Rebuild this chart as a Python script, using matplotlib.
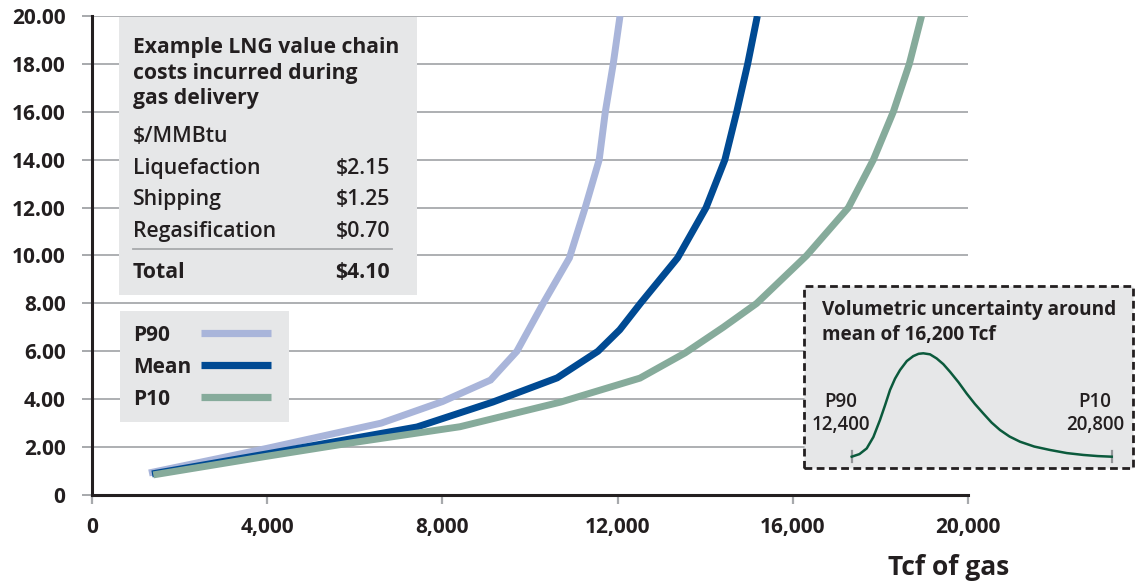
import matplotlib
matplotlib.use('Agg')
import matplotlib.pyplot as plt
from matplotlib.patches import Rectangle
from matplotlib.lines import Line2D

# ---------------- data ----------------
series_names = ['P90', 'Mean', 'P10']
p90_x = [1300, 4000, 6600, 8000, 9100, 9700, 10300, 10900, 11260, 11580, 11720, 11900, 12055]
p90_y = [0.92, 1.95, 3.0, 3.9, 4.8, 6.0, 8.0, 9.9, 12.0, 14.0, 16.0, 18.0, 20.0]
mean_x = [1370, 4000, 7420, 9150, 10620, 11550, 12050, 12520, 13370, 14020, 14450, 14720, 14970, 15190]
mean_y = [0.88, 1.72, 2.84, 3.88, 4.89, 6.0, 6.9, 8.0, 9.9, 12.0, 14.0, 16.0, 18.0, 20.0]
p10_x = [1400, 4000, 6000, 8400, 10700, 12510, 13540, 14410, 15175, 16317, 17270, 17840, 18295, 18660, 18940]
p10_y = [0.84, 1.62, 2.2, 2.85, 3.88, 4.88, 5.93, 7.0, 8.0, 10.0, 12.0, 14.0, 16.0, 18.0, 20.0]

x_ticks = [0, 4000, 8000, 12000, 16000, 20000]
y_ticks = [0, 2, 4, 6, 8, 10, 12, 14, 16, 18, 20]

box_title = ['Example LNG value chain', 'costs incurred during', 'gas delivery']
unit_label = '$/MMBtu'
cost_items = ['Liquefaction', 'Shipping', 'Regasification']
cost_values = [2.15, 1.25, 0.70]
total_label = 'Total'
total_value = 4.10

inset_title = ['Volumetric uncertainty around', 'mean of 16,200 Tcf']
inset_low_label, inset_low_value = 'P90', 12400
inset_high_label, inset_high_value = 'P10', 20800
inset_x = [12400, 12650, 12885, 13100, 13314, 13480, 13638, 13800, 13961, 14180, 14390,
           14560, 14713, 14930, 15146, 15360, 15580, 15850, 16116, 16380, 16652, 16920,
           17192, 17500, 17838, 18300, 18807, 19350, 19883, 20350, 20800]
inset_y = [0.0, 0.025, 0.08, 0.19, 0.355, 0.5, 0.645, 0.755, 0.838, 0.925, 0.973,
           0.995, 1.0, 0.99, 0.95, 0.895, 0.82, 0.72, 0.61, 0.51, 0.418, 0.33,
           0.258, 0.195, 0.145, 0.098, 0.065, 0.035, 0.017, 0.006, 0.0]

# ---------------- style ----------------
plt.rcParams['font.family'] = ['Open Sans', 'DejaVu Sans']
TXT = '#231F20'
GRID = '#A7A9AC'
BOXC = '#E6E7E8'
colors = {'P90': '#A9B5DA', 'Mean': '#004A93', 'P10': '#86AB9B'}

W, H = 1137, 582
fig = plt.figure(figsize=(W / 100, H / 100), dpi=100)


def fx(px):
    return px / W


def fy(py):
    return 1 - py / H


ax = fig.add_axes([fx(92), fy(495), (968 - 92) / W, (495 - 16) / H])
ax.set_xlim(0, 20000)
ax.set_ylim(0, 20)

for name, xs, ys in zip(series_names, [p90_x, mean_x, p10_x], [p90_y, mean_y, p10_y]):
    ax.plot(xs, ys, color=colors[name], lw=5.0, solid_joinstyle='miter',
            solid_capstyle='butt', label=name, zorder=3)

ax.set_xticks(x_ticks)
ax.set_xticklabels([f'{v:,}' for v in x_ticks])
ax.set_yticks(y_ticks)
ax.set_yticklabels(['0' if v == 0 else f'{v:.2f}' for v in y_ticks])
ax.set_axisbelow(True)
ax.grid(axis='y', color=GRID, lw=1.3)
for s in ['top', 'right']:
    ax.spines[s].set_visible(False)
for s in ['left', 'bottom']:
    ax.spines[s].set_color(TXT)
    ax.spines[s].set_linewidth(2.2)
ax.tick_params(axis='y', length=7, width=1.4, color=GRID, pad=12,
               labelsize=15, labelcolor=TXT)
ax.tick_params(axis='x', length=6.5, width=1.6, color=GRID, pad=9,
               labelsize=15, labelcolor=TXT)
for lab in ax.get_xticklabels() + ax.get_yticklabels():
    lab.set_fontweight('bold')

fig.text(fx(949), fy(575), 'Tcf of gas', ha='center', va='baseline',
         fontsize=19, fontweight='bold', color=TXT)

# info box
fig.add_artist(Rectangle((fx(119), fy(295)), (417 - 119) / W, (295 - 17) / H,
                         transform=fig.transFigure, facecolor=BOXC,
                         edgecolor='none', zorder=1))
for line, base in zip(box_title, [53, 79, 104]):
    fig.text(fx(133), fy(base), line, ha='left', va='baseline', fontsize=15.2,
             fontweight='bold', color=TXT, zorder=2)
fig.text(fx(133), fy(142), unit_label.replace('$', r'\$'), ha='left', va='baseline',
         fontsize=15.3, fontweight='semibold', color=TXT, zorder=2)
for item, val, base in zip(cost_items, cost_values, [174, 205, 237]):
    fig.text(fx(133), fy(base), item, ha='left', va='baseline', fontsize=15.3,
             fontweight='semibold', color=TXT, zorder=2)
    fig.text(fx(390), fy(base), rf'\${val:.2f}', ha='right', va='baseline',
             fontsize=15.3, fontweight='semibold', color=TXT, zorder=2)
fig.add_artist(Line2D([fx(133), fx(392)], [fy(249), fy(249)],
                      transform=fig.transFigure, color=GRID, lw=1.3, zorder=2))
fig.text(fx(133), fy(278), total_label, ha='left', va='baseline', fontsize=15.3,
         fontweight='bold', color=TXT, zorder=2)
fig.text(fx(390), fy(278), rf'\${total_value:.2f}', ha='right', va='baseline',
         fontsize=15.3, fontweight='bold', color=TXT, zorder=2)

# legend (drawn as a key box)
fig.add_artist(Rectangle((fx(120), fy(422)), (289 - 120) / W, (422 - 311) / H,
                         transform=fig.transFigure, facecolor=BOXC,
                         edgecolor='none', zorder=1))
for name, base in zip(series_names, [341, 373, 405]):
    fig.text(fx(133), fy(base), name, ha='left', va='baseline', fontsize=15,
             fontweight='bold', color=TXT, zorder=2)
    fig.add_artist(Line2D([fx(201), fx(271)], [fy(base - 8), fy(base - 8)],
                          transform=fig.transFigure, color=colors[name], lw=5.2,
                          solid_capstyle='butt', zorder=2))

# inset
fig.add_artist(Rectangle((fx(804), fy(468)), (1133 - 804) / W, (468 - 286) / H,
                         transform=fig.transFigure, facecolor=BOXC,
                         edgecolor=TXT, lw=2.0, linestyle=(0, (2.8, 1.6)), zorder=1))
for line, base in zip(inset_title, [315, 340]):
    fig.text(fx(822), fy(base), line, ha='left', va='baseline', fontsize=13.7,
             fontweight='bold', color=TXT, zorder=2)
fig.text(fx(841), fy(407), inset_low_label, ha='center', va='baseline',
         fontsize=13.5, fontweight='semibold', color=TXT, zorder=2)
fig.text(fx(841), fy(430), f'{inset_low_value:,}', ha='center', va='baseline',
         fontsize=13.5, fontweight='semibold', color=TXT, zorder=2)
fig.text(fx(1095), fy(407), inset_high_label, ha='center', va='baseline',
         fontsize=13.5, fontweight='semibold', color=TXT, zorder=2)
fig.text(fx(1095), fy(430), f'{inset_high_value:,}', ha='center', va='baseline',
         fontsize=13.5, fontweight='semibold', color=TXT, zorder=2)

ax2 = fig.add_axes([fx(851.7), fy(456.7), 260 / W, 103.4 / H], zorder=5)
ax2.patch.set_visible(False)
ax2.set_axis_off()
ax2.set_xlim(inset_low_value, inset_high_value)
ax2.set_ylim(0, 1)
ax2.plot(inset_x, inset_y, color='#0B5A3C', lw=1.8, clip_on=False, zorder=3,
         solid_joinstyle='round')
for xv in [inset_low_value, inset_high_value]:
    ax2.plot([xv, xv], [-0.055, 0.055], color='#939598', lw=1.6, clip_on=False, zorder=2)

fig.savefig('out.png', dpi=100)
